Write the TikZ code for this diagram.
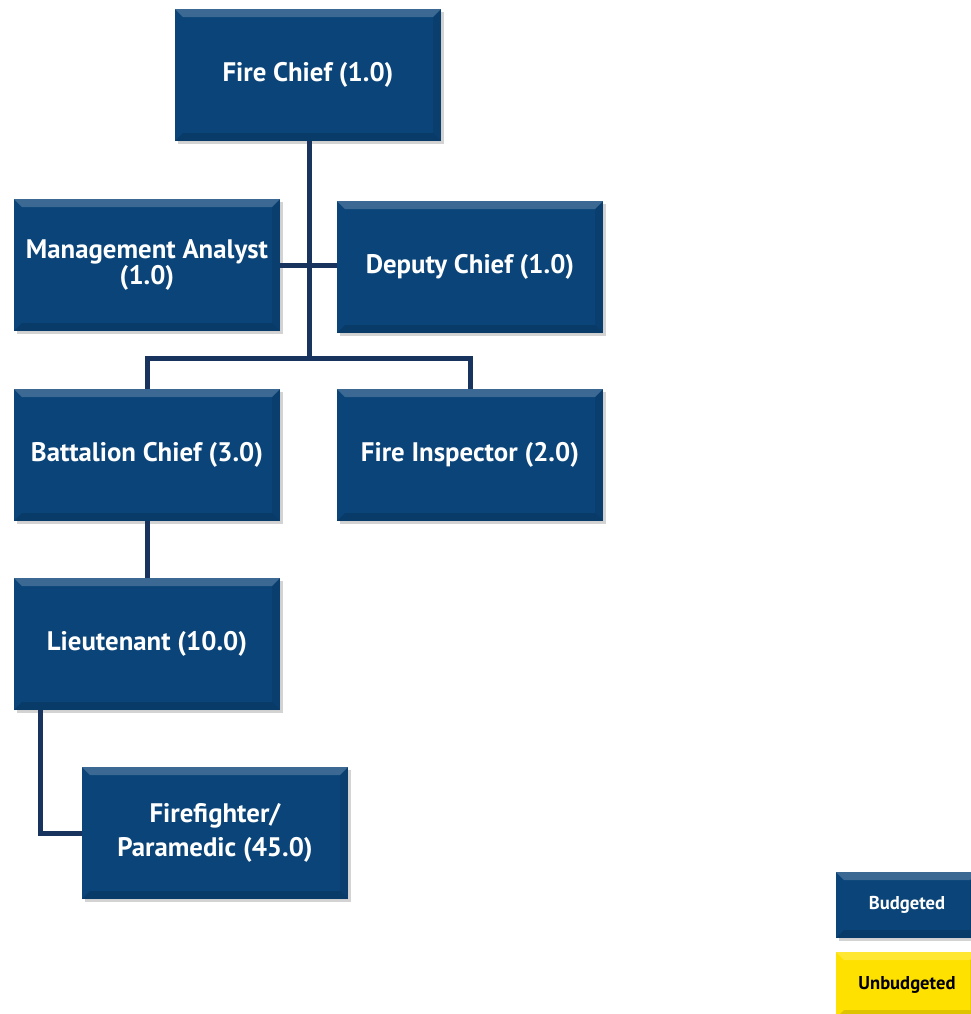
\documentclass[tikz,border=0pt]{standalone}
\usepackage{fontspec}
\setmainfont{PT Sans}
\usepackage{tikz}
\usetikzlibrary{calc, shadows}

\definecolor{budgetblue}{HTML}{0A4478}
\definecolor{linknavy}{HTML}{17335E}
\definecolor{unbudgetyellow}{HTML}{FFE100}

\tikzset{
  bevel/.style={path picture={
      \fill[white,opacity=0.2] (path picture bounding box.north west) -- (path picture bounding box.north east)
        -- ([xshift=-4pt,yshift=-4pt]path picture bounding box.north east) -- ([xshift=4pt,yshift=-4pt]path picture bounding box.north west) -- cycle;
      \fill[black,opacity=0.13] (path picture bounding box.south west) -- (path picture bounding box.south east)
        -- ([xshift=-4pt,yshift=4pt]path picture bounding box.south east) -- ([xshift=4pt,yshift=4pt]path picture bounding box.south west) -- cycle;
      \fill[black,opacity=0.08] (path picture bounding box.north east) -- (path picture bounding box.south east)
        -- ([xshift=-4pt,yshift=4pt]path picture bounding box.south east) -- ([xshift=-4pt,yshift=-4pt]path picture bounding box.north east) -- cycle;
    }},
  posbox/.style={
    bevel,
    fill=budgetblue,
    text=white,
    font=\fontsize{13.4}{13}\selectfont\bfseries,
    align=center,
    minimum width=133pt,
    minimum height=66pt,
    inner sep=2pt,
    drop shadow={shadow xshift=1.5pt, shadow yshift=-1.5pt, opacity=0.35},
  },
  keybox/.style={
    posbox,
    font=\fontsize{9.3}{10}\selectfont\bfseries,
    minimum width=71pt,
    minimum height=33pt,
  },
  link/.style={linknavy, line width=2.5pt},
}

\begin{document}
\begin{tikzpicture}[x=0.5pt, y=-0.5pt]%
  \useasboundingbox (0,0) rectangle (971,1014);
% positions
  \node[posbox] (chief) at (308,75) {Fire Chief (1.0)};
  \node[posbox] (analyst) at (147,265) {Management Analyst\\(1.0)};
  \node[posbox] (deputy) at (470,267) {Deputy Chief (1.0)};
  \node[posbox] (battalion) at (147,455) {Battalion Chief (3.0)};
  \node[posbox] (inspector) at (470,455) {Fire Inspector (2.0)};
  \node[posbox] (lieutenant) at (147,644) {Lieutenant (10.0)};
  \node[posbox] (firefighter) at (215,833) {Firefighter/\\[4pt]Paramedic (45.0)};
% legend
  \node[keybox] (budgeted) at (907,905) {Budgeted};
  \node[keybox, fill=unbudgetyellow, text=black] (unbudgeted) at (907,985) {Unbudgeted};
% lines
  \coordinate (split) at (309,358);
  \draw[link] (chief.south -| split) -- (split);
  \draw[link] (analyst.east) -- (analyst.east -| deputy.west);
  \draw[link] (battalion.north) |- (split) -| (inspector.north);
  \draw[link] (battalion.south) -- (lieutenant.north);
  \draw[link] ($(lieutenant.south west)!0.1!(lieutenant.south east)$) |- (firefighter.west);
\end{tikzpicture}
\end{document}
